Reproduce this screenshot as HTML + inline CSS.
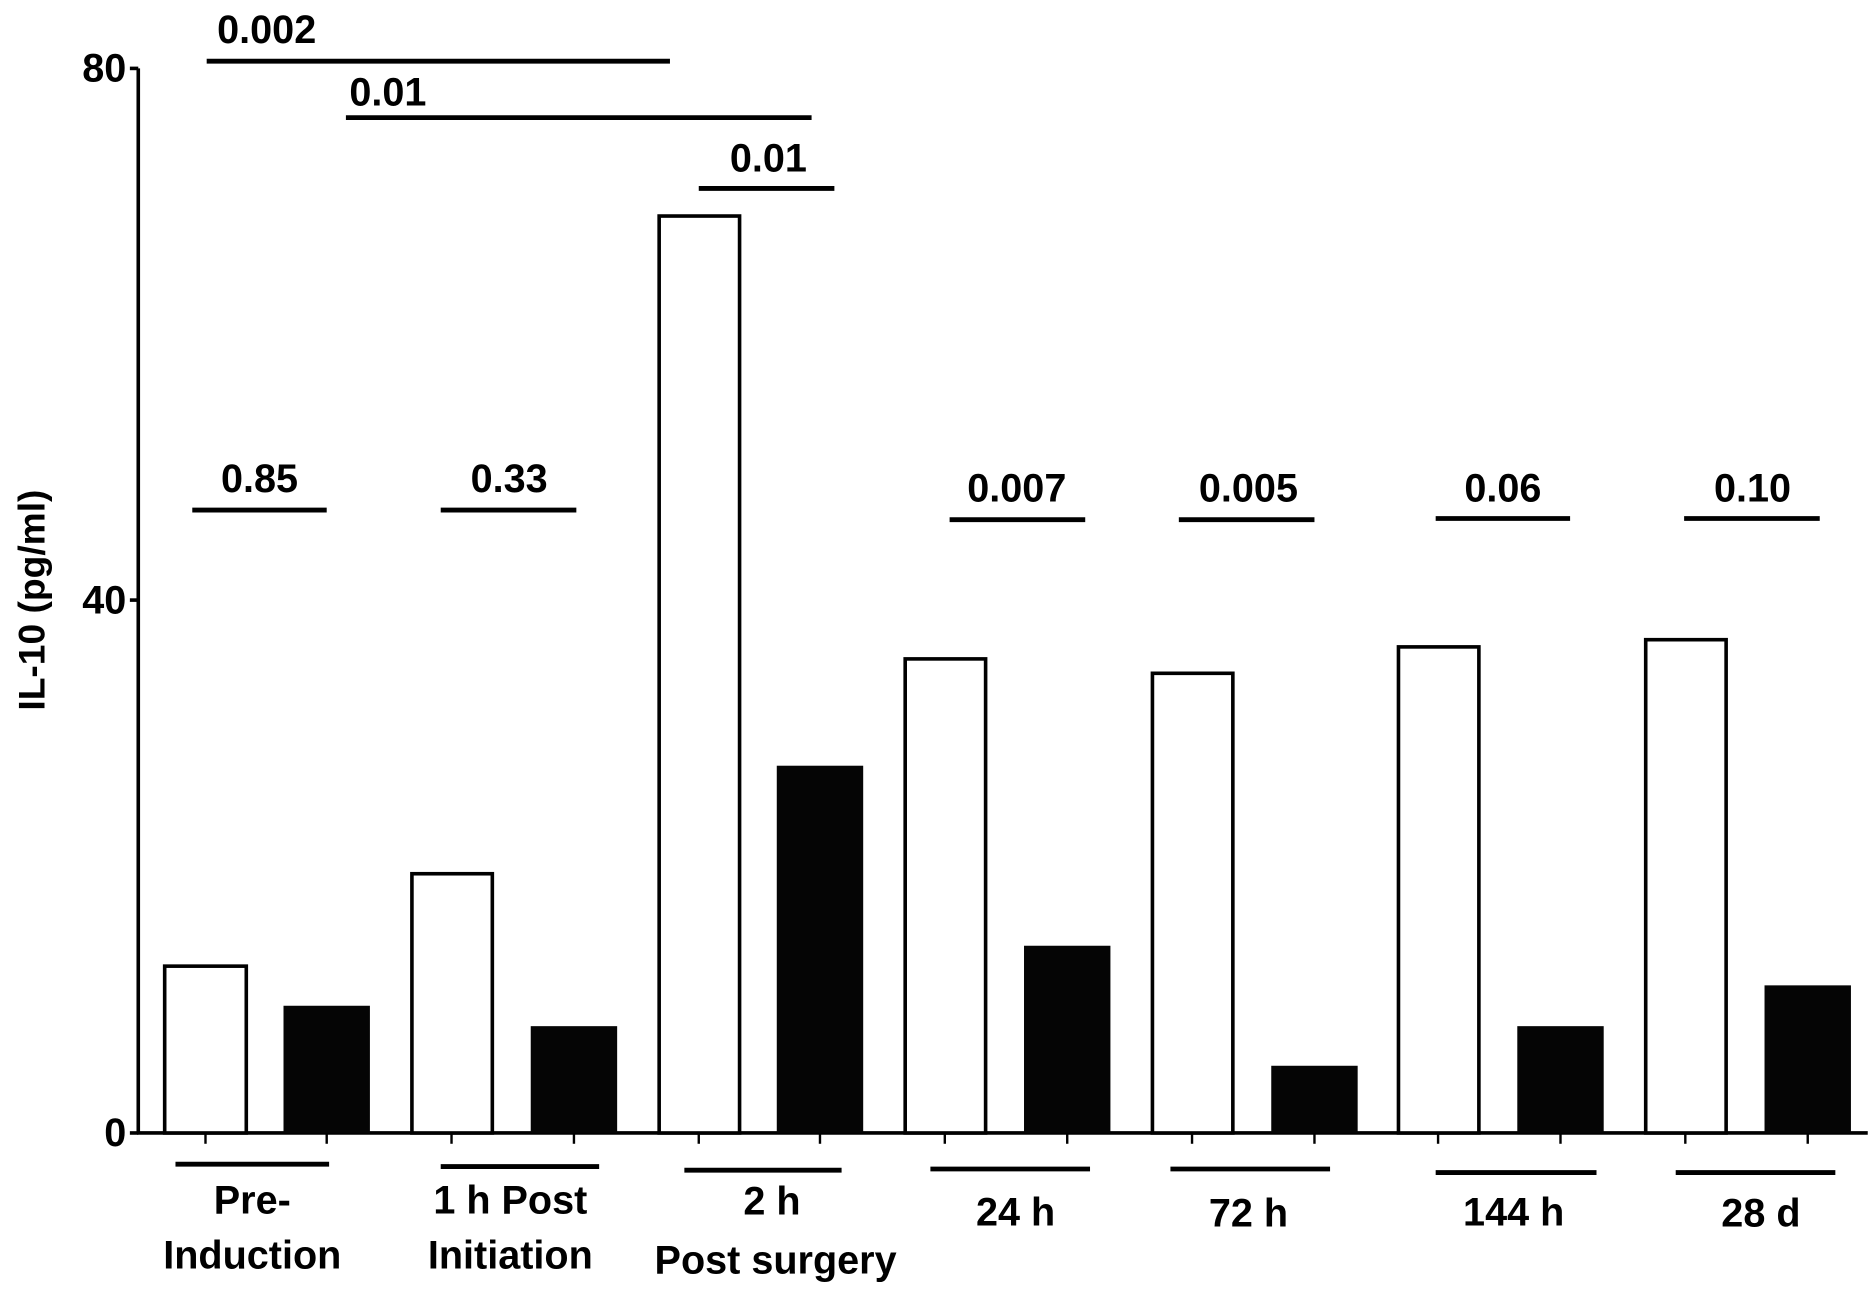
<!DOCTYPE html>
<html><head><style>html,body{margin:0;padding:0;background:#fff}svg{display:block}</style></head><body>
<svg width="1874" height="1289" viewBox="0 0 1561 1074" xmlns="http://www.w3.org/2000/svg" font-family="Liberation Sans, Arial, sans-serif" font-weight="bold" font-size="33">
<g stroke="#000" stroke-width="3" fill="none">
<line x1="115" y1="57" x2="115" y2="945"/>
<line x1="108" y1="57" x2="115" y2="57"/>
<line x1="108" y1="500" x2="115" y2="500"/>
<line x1="108" y1="944" x2="115" y2="944"/>
<line x1="114" y1="944" x2="1556" y2="944"/>
</g>
<g stroke="#000" stroke-width="3" fill="#fff">
<rect x="137" y="805" width="68" height="139"/>
<rect x="343" y="728" width="67" height="216"/>
<rect x="549" y="180" width="67" height="764"/>
<rect x="754" y="549" width="67" height="395"/>
<rect x="960" y="561" width="67" height="383"/>
<rect x="1165" y="539" width="67" height="405"/>
<rect x="1371" y="533" width="67" height="411"/>
</g>
<g fill="#050505">
<rect x="236" y="838" width="72" height="106"/>
<rect x="442" y="855" width="72" height="89"/>
<rect x="647" y="638" width="72" height="306"/>
<rect x="853" y="788" width="72" height="156"/>
<rect x="1059" y="888" width="72" height="56"/>
<rect x="1264" y="855" width="72" height="89"/>
<rect x="1470" y="821" width="72" height="123"/>
</g>
<g stroke="#000" stroke-width="2">
<line x1="171" y1="944" x2="171" y2="953"/><line x1="272" y1="944" x2="272" y2="953"/>
<line x1="376" y1="944" x2="376" y2="953"/><line x1="478" y1="944" x2="478" y2="953"/>
<line x1="582" y1="944" x2="582" y2="953"/><line x1="683" y1="944" x2="683" y2="953"/>
<line x1="787" y1="944" x2="787" y2="953"/><line x1="889" y1="944" x2="889" y2="953"/>
<line x1="993" y1="944" x2="993" y2="953"/><line x1="1095" y1="944" x2="1095" y2="953"/>
<line x1="1198" y1="944" x2="1198" y2="953"/><line x1="1300" y1="944" x2="1300" y2="953"/>
<line x1="1404" y1="944" x2="1404" y2="953"/><line x1="1506" y1="944" x2="1506" y2="953"/>
</g>
<g stroke="#000" stroke-width="4">
<line x1="146" y1="970" x2="274" y2="970"/>
<line x1="367" y1="972" x2="499" y2="972"/>
<line x1="570" y1="975" x2="701" y2="975"/>
<line x1="775" y1="974" x2="908" y2="974"/>
<line x1="975" y1="974" x2="1108" y2="974"/>
<line x1="1196" y1="977" x2="1330" y2="977"/>
<line x1="1396" y1="977" x2="1529" y2="977"/>
<line x1="160" y1="425" x2="272" y2="425"/>
<line x1="367" y1="425" x2="480" y2="425"/>
<line x1="791" y1="433" x2="904" y2="433"/>
<line x1="982" y1="433" x2="1095" y2="433"/>
<line x1="1196" y1="432" x2="1308" y2="432"/>
<line x1="1403" y1="432" x2="1516" y2="432"/>
<line x1="172" y1="51" x2="558" y2="51"/>
<line x1="288" y1="98" x2="676" y2="98"/>
<line x1="582" y1="157" x2="695" y2="157"/>
</g>
<g text-anchor="middle" fill="#000">
<text x="216" y="410">0.85</text>
<text x="424" y="410">0.33</text>
<text x="847" y="418">0.007</text>
<text x="1040" y="418">0.005</text>
<text x="1252" y="418">0.06</text>
<text x="1460" y="418">0.10</text>
<text x="222" y="36">0.002</text>
<text x="323" y="88">0.01</text>
<text x="640" y="143">0.01</text>
<text x="210" y="1011">Pre-</text>
<text x="210" y="1057">Induction</text>
<text x="425" y="1011">1 h Post</text>
<text x="425" y="1057">Initiation</text>
<text x="643" y="1012">2 h</text>
<text x="646" y="1061">Post surgery</text>
<text x="846" y="1021">24 h</text>
<text x="1040" y="1022">72 h</text>
<text x="1261" y="1021">144 h</text>
<text x="1467" y="1022">28 d</text>
</g>
<g text-anchor="end" fill="#000">
<text x="105" y="68">80</text>
<text x="105" y="511">40</text>
<text x="105" y="955">0</text>
</g>
<text transform="translate(37,500) rotate(-90)" text-anchor="middle" fill="#000" font-size="31">IL-10 (pg/ml)</text>
</svg>
</body></html>
